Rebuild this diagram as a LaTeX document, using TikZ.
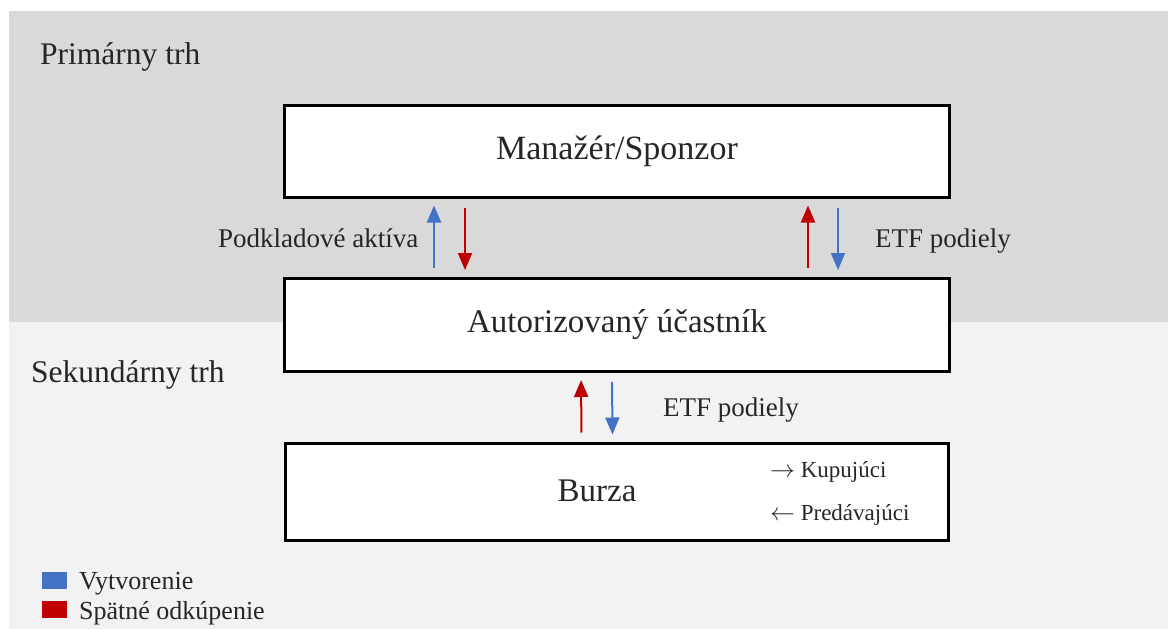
\documentclass[tikz,border=0pt]{standalone}
\usepackage{fontspec}
\setmainfont{Liberation Serif}
\usetikzlibrary{arrows.meta, positioning}

\definecolor{primgray}{HTML}{D9D9D9}
\definecolor{secgray}{HTML}{F2F2F2}
\definecolor{makeblue}{HTML}{4472C4}
\definecolor{backred}{HTML}{C00000}

\begin{document}
\begin{tikzpicture}[x=1pt, y=-1pt,
    box/.style={draw=black, line width=3pt, fill=white, minimum width=665pt, minimum height=93pt, inner sep=0pt},
    flow/.style={line width=2pt, -{Triangle[length=17pt,width=14pt]}, shorten <=9pt, shorten >=7pt},
    lbl/.style={anchor=base west, inner sep=0pt, text=black!85, font=\fontsize{27}{32}\selectfont}]
    \useasboundingbox (0,0) rectangle (1168,629);

    % Market areas
    \fill[primgray] (9,11) rectangle (1168,322);  % Primary market
    \fill[secgray] (9,322) rectangle (1168,629);  % Secondary market
    \node[lbl, font=\fontsize{31.5}{36}\selectfont] (prim) at (40,64) {Primárny trh};
    \node[lbl, font=\fontsize{31.5}{36}\selectfont] (sek) at (31,382) {Sekundárny trh};

    % Boxes
    \node[box, minimum height=92pt, font=\fontsize{34}{39}\selectfont, text=black!85] (mgr) at (617,151) {Manažér/Sponzor};
    \node[box, font=\fontsize{33}{38}\selectfont, text=black!85] (ap) at (617,325) {Autorizovaný účastník};
    \node[box, minimum width=663pt, minimum height=97pt] (burza) at (616.5,491.5) {};
    \node[text=black!85, font=\fontsize{33}{38}\selectfont] (burzatxt) at (597,491) {Burza};
    \node[lbl, font=\fontsize{23}{28}\selectfont] (kup) at (770,477) {$\rightarrow$ Kupujúci};
    \node[lbl, font=\fontsize{23}{28}\selectfont] (pred) at (770,520) {$\leftarrow$ Predávajúci};

    % Arrows between primary boxes
    \draw[flow, makeblue] ([xshift=151pt]ap.north west) -- ([xshift=151pt]mgr.south west);
    \draw[flow, backred] ([xshift=182pt]mgr.south west) -- ([xshift=182pt]ap.north west);
    \draw[flow, backred] ([xshift=525pt]ap.north west) -- ([xshift=525pt]mgr.south west);
    \draw[flow, makeblue] ([xshift=555pt]mgr.south west) -- ([xshift=555pt]ap.north west);
    \node[lbl] (podk) at (218,247) {Podkladové aktíva};
    \node[lbl] (etf1) at (875,247) {ETF podiely};

    % Arrows to the exchange
    \draw[flow, backred] ([xshift=298pt]burza.north west) -- ([xshift=298pt]ap.south west);
    \draw[flow, makeblue] ([xshift=329pt]ap.south west) -- ([xshift=329pt]burza.north west);
    \node[lbl] (etf2) at (663,416) {ETF podiely};

    % Legend
    \fill[makeblue] (42,572) rectangle (67,589);
    \fill[backred] (42,601) rectangle (67,618);
    \node[lbl, font=\fontsize{26}{30}\selectfont] (vyt) at (79,589) {Vytvorenie};
    \node[lbl, font=\fontsize{26}{30}\selectfont] (spat) at (79,619) {Spätné odkúpenie};
\end{tikzpicture}
\end{document}
